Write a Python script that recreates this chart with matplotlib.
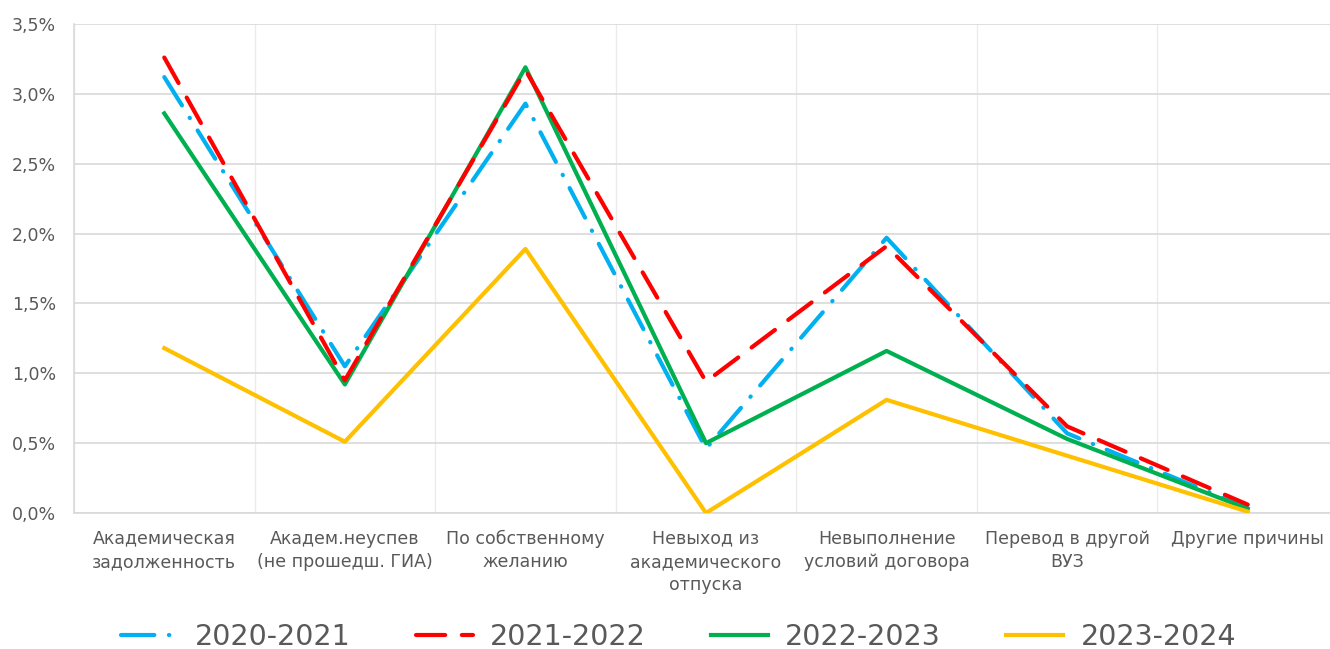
import numpy as np
import matplotlib
matplotlib.use("Agg")
import matplotlib.pyplot as plt

categories = [
    "Академическая\nзадолженность",
    "Академ.неуспев\n(не прошедш. ГИА)",
    "По собственному\nжеланию",
    "Невыход из\nакадемического\nотпуска",
    "Невыполнение\nусловий договора",
    "Перевод в другой\nВУЗ",
    "Другие причины",
]
y_2020 = [3.12, 1.05, 2.93, 0.46, 1.97, 0.57, 0.035]
y_2021 = [3.26, 0.95, 3.17, 0.94, 1.91, 0.62, 0.06]
y_2022 = [2.86, 0.92, 3.19, 0.50, 1.16, 0.53, 0.03]
y_2023 = [1.18, 0.51, 1.89, 0.00, 0.81, 0.41, 0.01]
y_ticks = [0, 0.5, 1.0, 1.5, 2.0, 2.5, 3.0, 3.5]
tick_labels = ["0,0%", "0,5%", "1,0%", "1,5%", "2,0%", "2,5%", "3,0%", "3,5%"]

text_color = "#595959"
grid_color = "#D9D9D9"

fig = plt.figure(figsize=(13.3, 6.49), dpi=100)
ax = fig.add_axes([74 / 1330, 136 / 649, 1264 / 1330, 489 / 649])

x = np.arange(len(categories))
lw = 3.0
ax.plot(x, y_2020, color="#00B0F0", lw=lw, dashes=(8, 3.5, 0.1, 3.5),
        dash_capstyle="round", label="2020-2021", zorder=3)
ax.plot(x, y_2021, color="#FF0000", lw=lw, dashes=(7, 4),
        dash_capstyle="round", label="2021-2022", zorder=4)
ax.plot(x, y_2022, color="#00B050", lw=lw, label="2022-2023", zorder=3)
ax.plot(x, y_2023, color="#FFC000", lw=lw, label="2023-2024", zorder=3)

ax.set_xlim(-0.5, len(categories) - 0.5)
ax.set_ylim(0, 3.5)
ax.set_yticks(y_ticks)
ax.set_yticklabels(tick_labels)
ax.set_xticks(x)
ax.set_xticklabels(categories, linespacing=1.38)
ax.set_xticks(np.arange(-0.5, len(categories), 0.5), minor=True)
ax.tick_params(axis="both", which="both", length=0, colors=text_color, labelsize=12.5)
ax.tick_params(axis="x", pad=12)
ax.tick_params(axis="y", pad=13)

ax.grid(True, axis="y", color=grid_color, lw=1.2)
ax.grid(True, axis="x", which="minor", color="#EBEBEB", lw=1.0)
ax.set_axisbelow(True)
for side in ["top", "right"]:
    ax.spines[side].set_visible(False)
for side in ["left", "bottom"]:
    ax.spines[side].set_color(grid_color)
    ax.spines[side].set_linewidth(1.2)

leg = fig.legend(loc="center", bbox_to_anchor=(0.51, 0.018), ncol=4,
                 frameon=False, handlelength=2.0, handletextpad=0.6,
                 columnspacing=2.3, prop={"size": 20.5})
for t in leg.get_texts():
    t.set_color(text_color)

fig.savefig("out.png", dpi=100)
